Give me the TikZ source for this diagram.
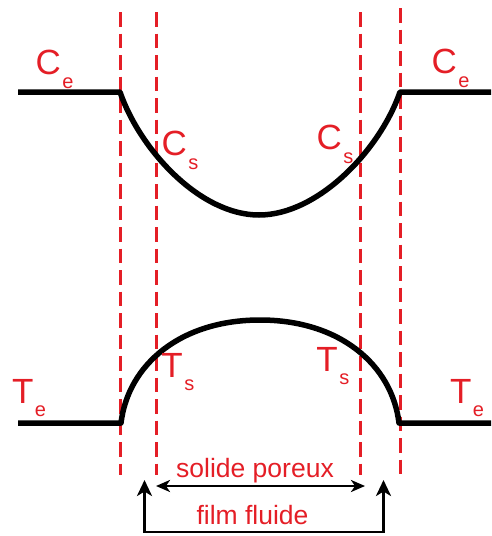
\documentclass[tikz,border=0pt]{standalone}
\usepackage{fontspec}
\setmainfont{Liberation Sans}
\usetikzlibrary{arrows.meta}
\definecolor{lred}{RGB}{228,30,38}
\newcommand{\lbl}[2]{#1\hspace{1.5pt}\raisebox{-13.5pt}{\fontsize{20}{20}\selectfont #2}}
\begin{document}
\begin{tikzpicture}[x=1pt,y=-1pt,
  curve/.style={line width=5.5pt, line join=round},
  guide/.style={draw=lred, line width=3pt, dash pattern=on 14.5pt off 7pt},
  lab/.style={text=lred, font=\fontsize{35}{35}\selectfont, inner sep=0pt, anchor=base west},
  captxt/.style={text=lred, font=\fontsize{26.5}{26.5}\selectfont, inner sep=0pt, anchor=base},
  htip/.tip={Stealth[length=14pt,width=12pt,inset=4pt]},
  vtip/.tip={Stealth[length=16pt,width=15pt,inset=4.5pt]},
  arr/.style={line width=2.8pt}]
\useasboundingbox (0,0) rectangle (491,536);
% guides
\coordinate (g1t) at (120,12); \coordinate (g1b) at (120,475);
\coordinate (g2t) at (156,12); \coordinate (g2b) at (156,475);
\coordinate (g3t) at (360,12); \coordinate (g3b) at (360,475);
\coordinate (g4t) at (400,8);  \coordinate (g4b) at (400,475);
\draw[guide] (g1t) -- (g1b);
\draw[guide] (g2t) -- (g2b);
\draw[guide] (g3t) -- (g3b);
\draw[guide] (g4t) -- (g4b);
% concentration curve
\coordinate (cL0) at (18,92);  \coordinate (cL1) at (120,92);
\coordinate (cMin) at (259,215);
\coordinate (cR1) at (400,92); \coordinate (cR0) at (491,92);
\draw[curve] (cL0) -- (cL1) .. controls (140,150) and (200,215) .. (cMin)
  .. controls (318,215) and (380,150) .. (cR1) -- (cR0);
% temperature curve
\coordinate (tL0) at (18,423);  \coordinate (tL1) at (121,423);
\coordinate (tMax) at (260,320);
\coordinate (tR1) at (399,423); \coordinate (tR0) at (491,423);
\draw[curve] (tL0) -- (tL1) .. controls (128,365) and (180,320) .. (tMax)
  .. controls (340,320) and (392,365) .. (tR1) -- (tR0);
% labels
\node[lab] (ceL) at (35.3,74.5) {\lbl{C}{e}};
\node[lab] (ceR) at (431.3,73.5) {\lbl{C}{e}};
\node[lab] (csL) at (161.3,155.5) {\lbl{C}{s}};
\node[lab] (csR) at (316.3,149.5) {\lbl{C}{s}};
\node[lab] (tsL) at (161.2,377) {\lbl{T}{s}};
\node[lab] (teL) at (11.9,403) {\lbl{T}{e}};
\node[lab] (tsR) at (316.2,371) {\lbl{T}{s}};
\node[lab] (teR) at (449.9,403) {\lbl{T}{e}};
% arrows
\coordinate (spL) at (156,486); \coordinate (spR) at (365,486);
\draw[arr, htip-htip] (spL) -- (spR);
\node[captxt] (sp) at (255,477) {solide poreux};
\coordinate (ffL) at (144.5,480); \coordinate (ffR) at (383.5,480);
\draw[arr, vtip-vtip] (ffL) -- ++(0,52) -| (ffR);
\node[captxt] (ff) at (252.5,524) {film fluide};
\end{tikzpicture}
\end{document}
